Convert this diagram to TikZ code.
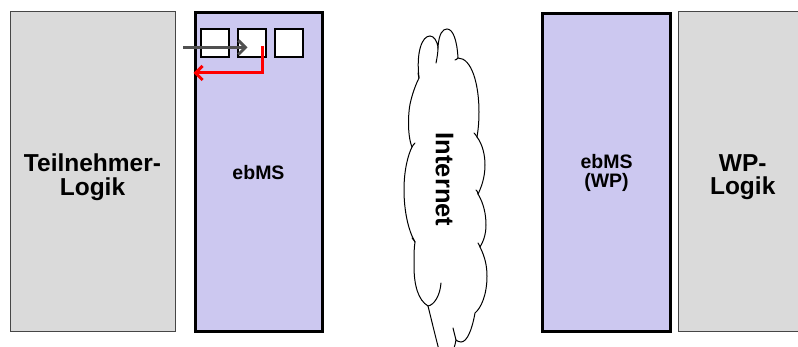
\documentclass[tikz,border=0pt]{standalone}
\usepackage{fontspec}
\setmainfont{Liberation Sans}
\usetikzlibrary{arrows.meta,calc}

\definecolor{boxgray}{RGB}{218,218,218}
\definecolor{bordergray}{RGB}{70,70,70}
\definecolor{lavender}{RGB}{204,200,240}
\definecolor{arrowgray}{RGB}{80,80,80}
\definecolor{arrowred}{RGB}{255,0,0}

\tikzset{
  logic/.style={draw=bordergray, line width=1pt, fill=boxgray, inner sep=0pt, anchor=north west},
  msgbox/.style={draw=black, line width=3pt, fill=lavender, inner sep=0pt, anchor=north west,
    font=\bfseries\fontsize{19.5}{19}\selectfont, align=center},
  slot/.style={draw=black, line width=1.2pt, fill=white, minimum size=28pt, inner sep=0pt},
  bigtext/.style={font=\bfseries\fontsize{24.5}{23.5}\selectfont, align=center, inner sep=0pt},
  flow/.style={line width=3pt, -{Straight Barb[length=7pt,width=14pt]}},
  cloudline/.style={draw=black, line width=1pt, line cap=round},
}

\begin{document}
\begin{tikzpicture}[x=1pt,y=-1pt]
  \clip (0,0) rectangle (798,347);

  % participant logic and its ebMS system
  \node[logic, minimum width=165pt, minimum height=319.5pt] (tlogic) at (9.5,11.5) {};
  \node[bigtext] (tlabel) at ($(tlogic.center)+(0,5.5)$) {Teilnehmer-\\Logik};

  \node[msgbox, minimum width=127pt, minimum height=319pt] (ebms) at (193.5,11.5) {ebMS};

  % message slots inside the ebMS box
  \node[slot] (sq1) at (215,43) {};
  \node[slot] (sq2) at (252,43) {};
  \node[slot] (sq3) at (289,43) {};

  % incoming message into the second slot, reply back to the left edge
  \coordinate (gin)  at (183,47.5);
  \coordinate (gtip) at ($(sq2.center)+(-4.5,4.5)$);
  \draw[flow, arrowgray] (gin) -- (gtip);

  \coordinate (rstart) at ($(sq2.center)+(10,3)$);
  \coordinate (rend)   at (193.5,73);
  \draw[flow, arrowred] (rstart) |- (rend);

  % the Internet cloud
  \path[cloudline, fill=white]
    (419,78)
      .. controls (416,52) and (422,36) .. (430,36)
      .. controls (434,36) and (437,41) .. (438,47)
      .. controls (439,33) and (443,29) .. (447,29)
      .. controls (453,29) and (457,40) .. (458,58)
      .. controls (472,58) and (479,85) .. (479,112)
      .. controls (479,123) and (478,131) .. (477,137)
      .. controls (483,145) and (485,156) .. (485,165)
      .. controls (485,178) and (481,188) .. (478,194)
      .. controls (484,204) and (486,215) .. (486,225)
      .. controls (486,235) and (483,242) .. (480,247)
      .. controls (485,257) and (487,266) .. (487,276)
      .. controls (487,295) and (481,308) .. (475,313)
      .. controls (472,330) and (467,342) .. (461,342)
      .. controls (459,342) and (457,341) .. (456,340)
      .. controls (452,362) and (442,364) .. (439,350)
      .. controls (435,335) and (431,318) .. (428,306)
      .. controls (418,300) and (414,285) .. (414,266)
      .. controls (414,256) and (414,248) .. (415,242)
      .. controls (408,230) and (404,210) .. (404,190)
      .. controls (404,170) and (408,155) .. (412,147)
      .. controls (407,135) and (408,110) .. (411,100)
      .. controls (413,92) and (416,84) .. (419,78)
      -- cycle;
  % inner arcs of the cloud
  \draw[cloudline] (438,47) .. controls (438,53) and (437,58) .. (436,63);
  \draw[cloudline] (428,306) .. controls (434,305) and (440,296) .. (441,283);
  \draw[cloudline] (456,340) .. controls (455,336) and (454,332) .. (453,328);
  \draw[cloudline] (458,58) .. controls (457,59) and (456,60) .. (455,60);
  \draw[cloudline] (477,137) .. controls (476,135) and (475,134) .. (474,133);
  \draw[cloudline] (478,194) .. controls (478,192) and (477,191) .. (476,190);
  \draw[cloudline] (480,247) .. controls (479,245) and (479,244) .. (478,243);
  \draw[cloudline] (415,242) .. controls (414,240) and (413,239) .. (412,238);
  \draw[cloudline] (412,147) .. controls (413,145) and (414,144) .. (415,143);
  \draw[cloudline] (419,78) .. controls (419,76) and (419,75) .. (418,73);
  \node[bigtext, font=\bfseries\fontsize{25.5}{25}\selectfont, rotate=-90] (inet) at (444.5,179.5) {Internet};

  % market partner side
  \node[msgbox, minimum width=128pt, minimum height=318pt] (ebmswp) at (541,12) {ebMS\\(WP)};
  \node[logic, minimum width=128pt, minimum height=319.5pt] (wplogic) at (678.2,11.5) {};
  \node[bigtext] (wplabel) at ($(wplogic.center)+(0,5.5)$) {WP-\\Logik};
\end{tikzpicture}
\end{document}
